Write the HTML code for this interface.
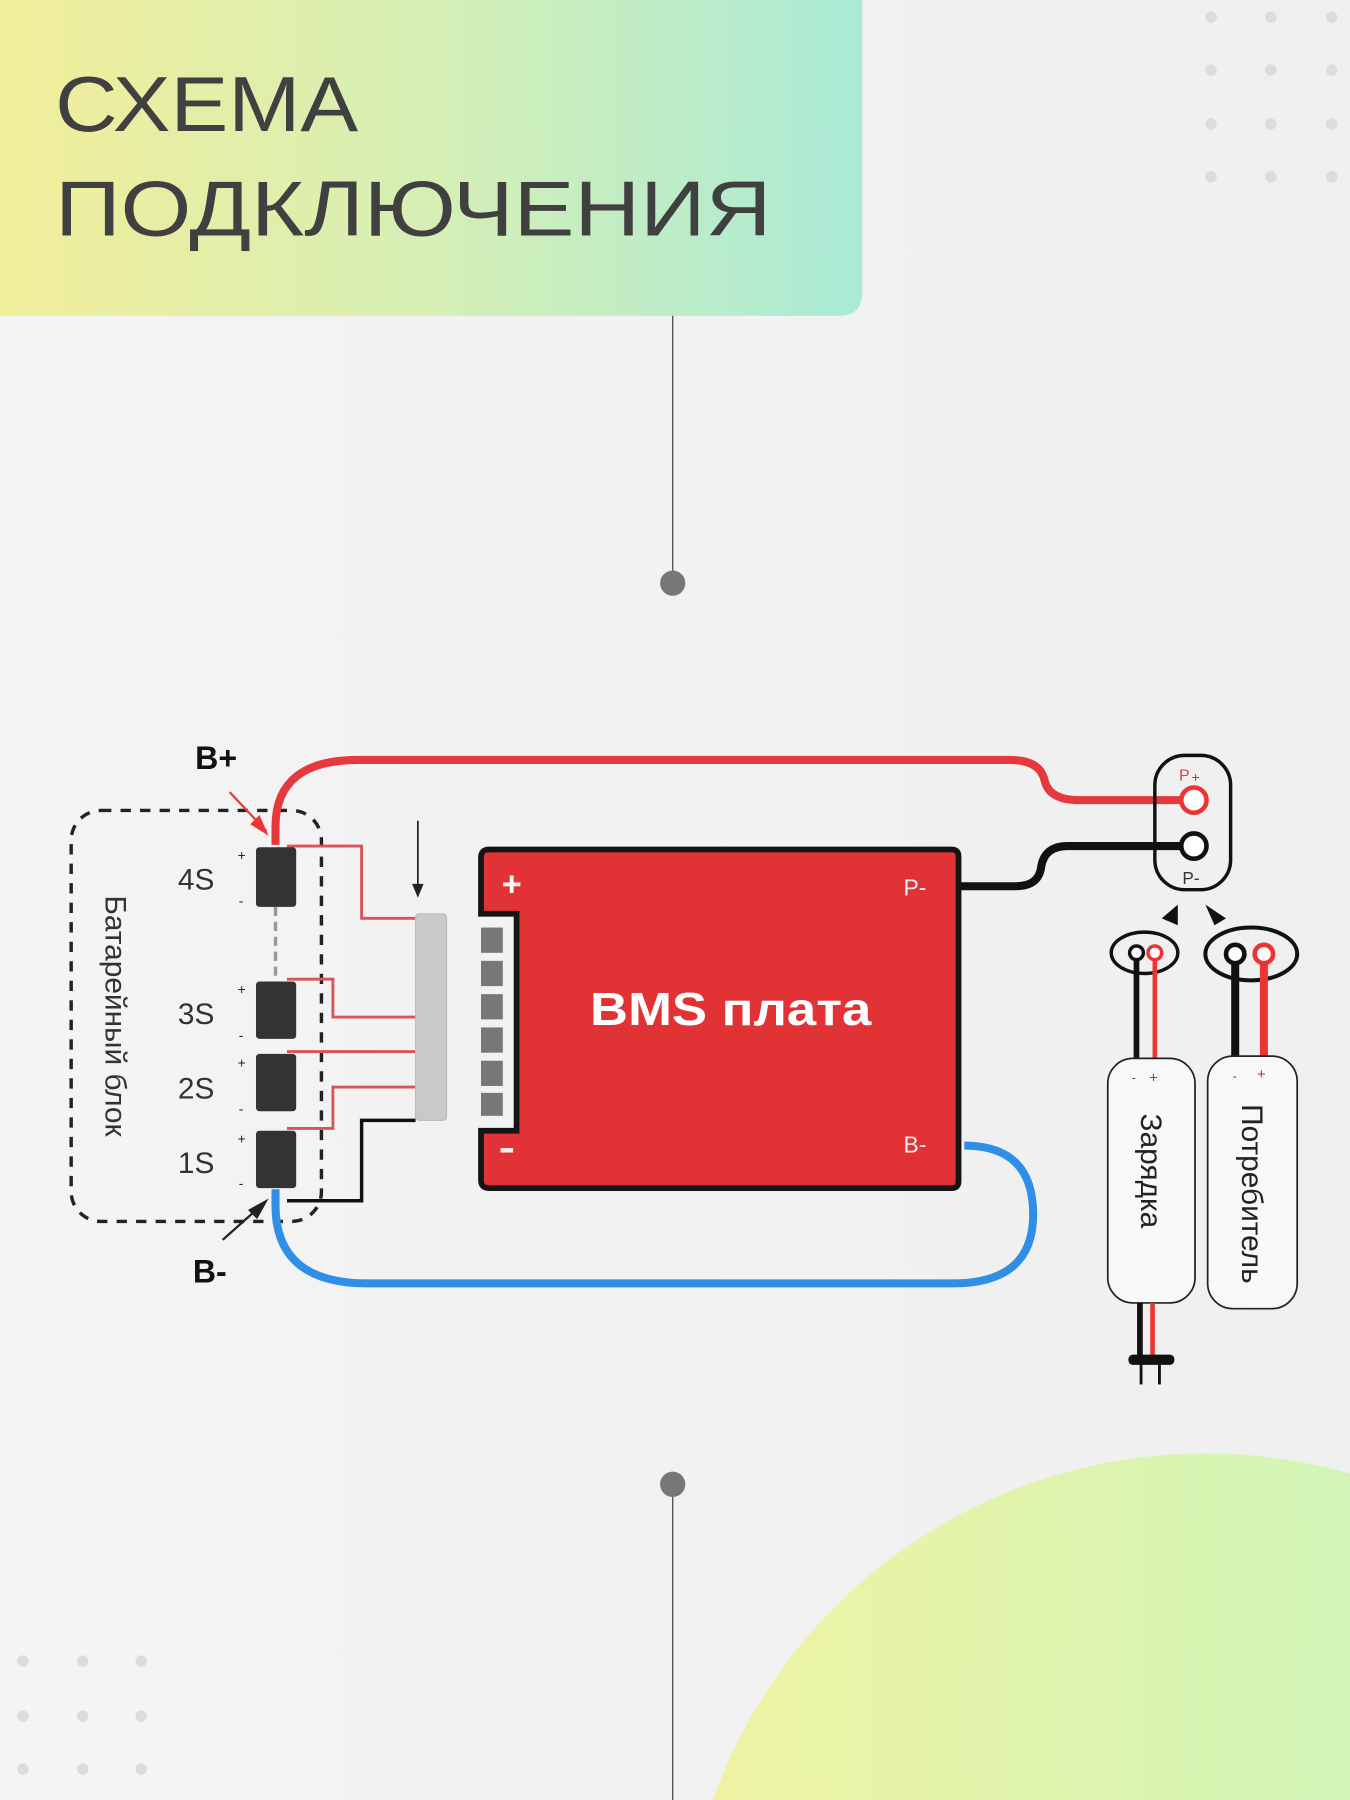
<!DOCTYPE html>
<html><head><meta charset="utf-8"><style>
html,body{margin:0;padding:0;width:1350px;height:1800px;overflow:hidden;background:#f4f4f4}
svg{display:block}
</style></head><body>
<svg width="1350" height="1800" viewBox="0 0 1176 1568" preserveAspectRatio="none" xmlns="http://www.w3.org/2000/svg" font-family="Liberation Sans, sans-serif" style="overflow:hidden">
<defs>
<linearGradient id="hg" x1="0" x2="1" y1="0" y2="0"><stop offset="0" stop-color="#f1ee9a"/><stop offset="0.5" stop-color="#d6efb5"/><stop offset="1" stop-color="#a9ead6"/></linearGradient>
<linearGradient id="bg" x1="0" x2="1" y1="0" y2="0"><stop offset="0" stop-color="#f4f4f4"/><stop offset="1" stop-color="#efefef"/></linearGradient>
<linearGradient id="cg" x1="0" x2="1" y1="0" y2="0"><stop offset="0" stop-color="#f0f3a2"/><stop offset="0.6" stop-color="#d3f5b5"/><stop offset="1" stop-color="#c4f4c0"/></linearGradient>
<clipPath id="cp"><rect width="1176" height="1568"/></clipPath>
</defs>
<g clip-path="url(#cp)">
<rect width="1176" height="1568" fill="url(#bg)"/>
<circle cx="1050" cy="1722" r="456" fill="url(#cg)"/>
<path d="M0 0H751V255Q751 275 731 275H0Z" fill="url(#hg)"/>
<text x="48" y="114" font-size="68" fill="#404040" textLength="264" lengthAdjust="spacingAndGlyphs">СХЕМА</text>
<text x="48" y="205" font-size="68" fill="#404040" textLength="624" lengthAdjust="spacingAndGlyphs">ПОДКЛЮЧЕНИЯ</text>
<g fill="#dcdcdc">
<circle cx="1055" cy="15" r="5"/><circle cx="1107" cy="15" r="5"/><circle cx="1160" cy="15" r="5"/>
<circle cx="1055" cy="61" r="5"/><circle cx="1107" cy="61" r="5"/><circle cx="1160" cy="61" r="5"/>
<circle cx="1055" cy="108" r="5"/><circle cx="1107" cy="108" r="5"/><circle cx="1160" cy="108" r="5"/>
<circle cx="1055" cy="154" r="5"/><circle cx="1107" cy="154" r="5"/><circle cx="1160" cy="154" r="5"/>
<circle cx="20" cy="1447" r="5"/><circle cx="72" cy="1447" r="5"/><circle cx="123" cy="1447" r="5"/>
<circle cx="20" cy="1495" r="5"/><circle cx="72" cy="1495" r="5"/><circle cx="123" cy="1495" r="5"/>
<circle cx="20" cy="1541" r="5"/><circle cx="72" cy="1541" r="5"/><circle cx="123" cy="1541" r="5"/>
</g>
<line x1="586" y1="275" x2="586" y2="508" stroke="#555" stroke-width="1.2"/>
<circle cx="586" cy="508" r="11" fill="#777"/>
<line x1="586" y1="1293" x2="586" y2="1568" stroke="#555" stroke-width="1.2"/>
<circle cx="586" cy="1293" r="11" fill="#777"/>

<rect x="62" y="706" width="218" height="358" rx="26" fill="none" stroke="#222" stroke-width="3" stroke-dasharray="9 8"/>
<text transform="translate(92,885) rotate(90)" font-size="26" text-anchor="middle" fill="#333">Батарейный блок</text>
<g font-size="26" fill="#333"><text x="155" y="775">4S</text><text x="155" y="892">3S</text><text x="155" y="957">2S</text><text x="155" y="1022">1S</text></g>
<g font-size="12" fill="#222"><text x="207" y="749">+</text><text x="208" y="789">-</text><text x="207" y="866">+</text><text x="208" y="906">-</text><text x="207" y="930">+</text><text x="208" y="970">-</text><text x="207" y="996">+</text><text x="208" y="1035">-</text></g>
<line x1="240" y1="790" x2="240" y2="855" stroke="#999" stroke-width="3" stroke-dasharray="8 5"/>
<g fill="none" stroke="#d9535a" stroke-width="2.5">
<path d="M250 737H315V800H362"/><path d="M250 853H290V886H362"/><path d="M250 916H362"/><path d="M250 983H290V947H362"/>
</g>
<path d="M250 1046H315V976H362" fill="none" stroke="#111" stroke-width="3"/>
<g fill="#333">
<rect x="223" y="738" width="35" height="52" rx="3"/><rect x="223" y="855" width="35" height="50" rx="3"/><rect x="223" y="918" width="35" height="50" rx="3"/><rect x="223" y="985" width="35" height="50" rx="3"/>
</g>
<path d="M240 736V720Q240 662 312 662H880Q906 662 910 680Q914 697 940 697H1035" fill="none" stroke="#e5393e" stroke-width="7"/>
<path d="M240 1036V1050Q240 1118 320 1118H830Q900 1118 900 1058Q900 998 840 998" fill="none" stroke="#2f8fe6" stroke-width="7"/>
<path d="M835 772H885Q905 772 907 755Q910 737 930 737H1030" fill="none" stroke="#111" stroke-width="7"/>
<text x="170" y="670" font-size="28" font-weight="bold" fill="#111">B+</text>
<text x="168" y="1117" font-size="28" font-weight="bold" fill="#111">B-</text>
<path d="M200 690L232 724" stroke="#d44" stroke-width="2"/><polygon points="234,728 218,718 226,710" fill="#e33"/>
<path d="M194 1080L230 1048" stroke="#222" stroke-width="2"/><polygon points="234,1044 224,1062 216,1054" fill="#222"/>
<rect x="362" y="796" width="27" height="180" rx="3" fill="#c9c9c9" stroke="#bbb"/>
<line x1="364" y1="715" x2="364" y2="772" stroke="#222" stroke-width="1.5"/><polygon points="359,770 369,770 364,782" fill="#222"/>
<path d="M426 740H829Q835 740 835 746V1029Q835 1035 829 1035H426Q419 1035 419 1028V985H450V796H419V747Q419 740 426 740Z" fill="#e13336" stroke="#151515" stroke-width="5"/>
<g fill="#777"><rect x="419" y="808" width="19" height="22"/><rect x="419" y="837" width="19" height="22"/><rect x="419" y="866" width="19" height="22"/><rect x="419" y="895" width="19" height="22"/><rect x="419" y="924" width="19" height="22"/><rect x="419" y="952" width="19" height="20"/></g>
<text x="437" y="780" font-size="30" font-weight="bold" fill="#fff">+</text>
<rect x="436" y="1000" width="11" height="4" fill="#eee"/>
<text x="787" y="780" font-size="20" fill="#eee">P-</text>
<text x="787" y="1004" font-size="20" fill="#eee">B-</text>
<text x="514" y="893" font-size="40" font-weight="bold" fill="#fff" textLength="245" lengthAdjust="spacingAndGlyphs">BMS плата</text>
<rect x="1006" y="658" width="66" height="117" rx="26" fill="none" stroke="#111" stroke-width="3"/>
<circle cx="1040" cy="697" r="11" fill="#fff" stroke="#e33" stroke-width="4"/>
<circle cx="1040" cy="737" r="11" fill="#fff" stroke="#111" stroke-width="4"/>
<text x="1027" y="680" font-size="14" fill="#d44">P</text><text x="1038" y="681" font-size="12" fill="#d22">+</text>
<text x="1030" y="770" font-size="15" fill="#333">P-</text>
<polygon points="1012,800 1026,788 1026,806" fill="#111"/>
<polygon points="1050,788 1068,800 1058,806" fill="#111"/>
<ellipse cx="997" cy="830" rx="29" ry="18" fill="none" stroke="#111" stroke-width="3"/>
<line x1="990" y1="836" x2="990" y2="925" stroke="#111" stroke-width="5"/>
<line x1="1006" y1="836" x2="1006" y2="925" stroke="#e33" stroke-width="4"/>
<circle cx="990" cy="830" r="6" fill="#fff" stroke="#111" stroke-width="3"/>
<circle cx="1006" cy="830" r="6" fill="#fff" stroke="#e33" stroke-width="3"/>
<rect x="965" y="922" width="76" height="213" rx="22" fill="#f8f8f8" stroke="#222" stroke-width="1.5"/>
<text x="986" y="942" font-size="10" fill="#222">-</text><text x="1001" y="943" font-size="13" fill="#d22">+</text>
<text transform="translate(994,1020) rotate(90)" font-size="26" text-anchor="middle" fill="#222">Зарядка</text>
<line x1="993" y1="1135" x2="993" y2="1185" stroke="#111" stroke-width="5"/><line x1="1004" y1="1135" x2="1004" y2="1185" stroke="#e33" stroke-width="4"/>
<rect x="983" y="1180" width="40" height="9" rx="4" fill="#111"/>
<line x1="994" y1="1188" x2="994" y2="1206" stroke="#111" stroke-width="2.5"/><line x1="1010" y1="1188" x2="1010" y2="1206" stroke="#111" stroke-width="2.5"/>
<ellipse cx="1090" cy="831" rx="40" ry="23" fill="none" stroke="#111" stroke-width="3.5"/>
<line x1="1076" y1="838" x2="1076" y2="922" stroke="#111" stroke-width="7"/>
<line x1="1101" y1="838" x2="1101" y2="922" stroke="#e33" stroke-width="7"/>
<circle cx="1076" cy="831" r="8" fill="#fff" stroke="#111" stroke-width="4"/>
<circle cx="1101" cy="831" r="8" fill="#fff" stroke="#e33" stroke-width="4"/>
<rect x="1052" y="920" width="78" height="220" rx="22" fill="#f8f8f8" stroke="#222" stroke-width="1.5"/>
<text x="1074" y="941" font-size="10" fill="#222">-</text><text x="1095" y="940" font-size="13" fill="#d22">+</text>
<text transform="translate(1082,1040) rotate(90)" font-size="26" text-anchor="middle" fill="#222">Потребитель</text>
</g>
</svg>
</body></html>
